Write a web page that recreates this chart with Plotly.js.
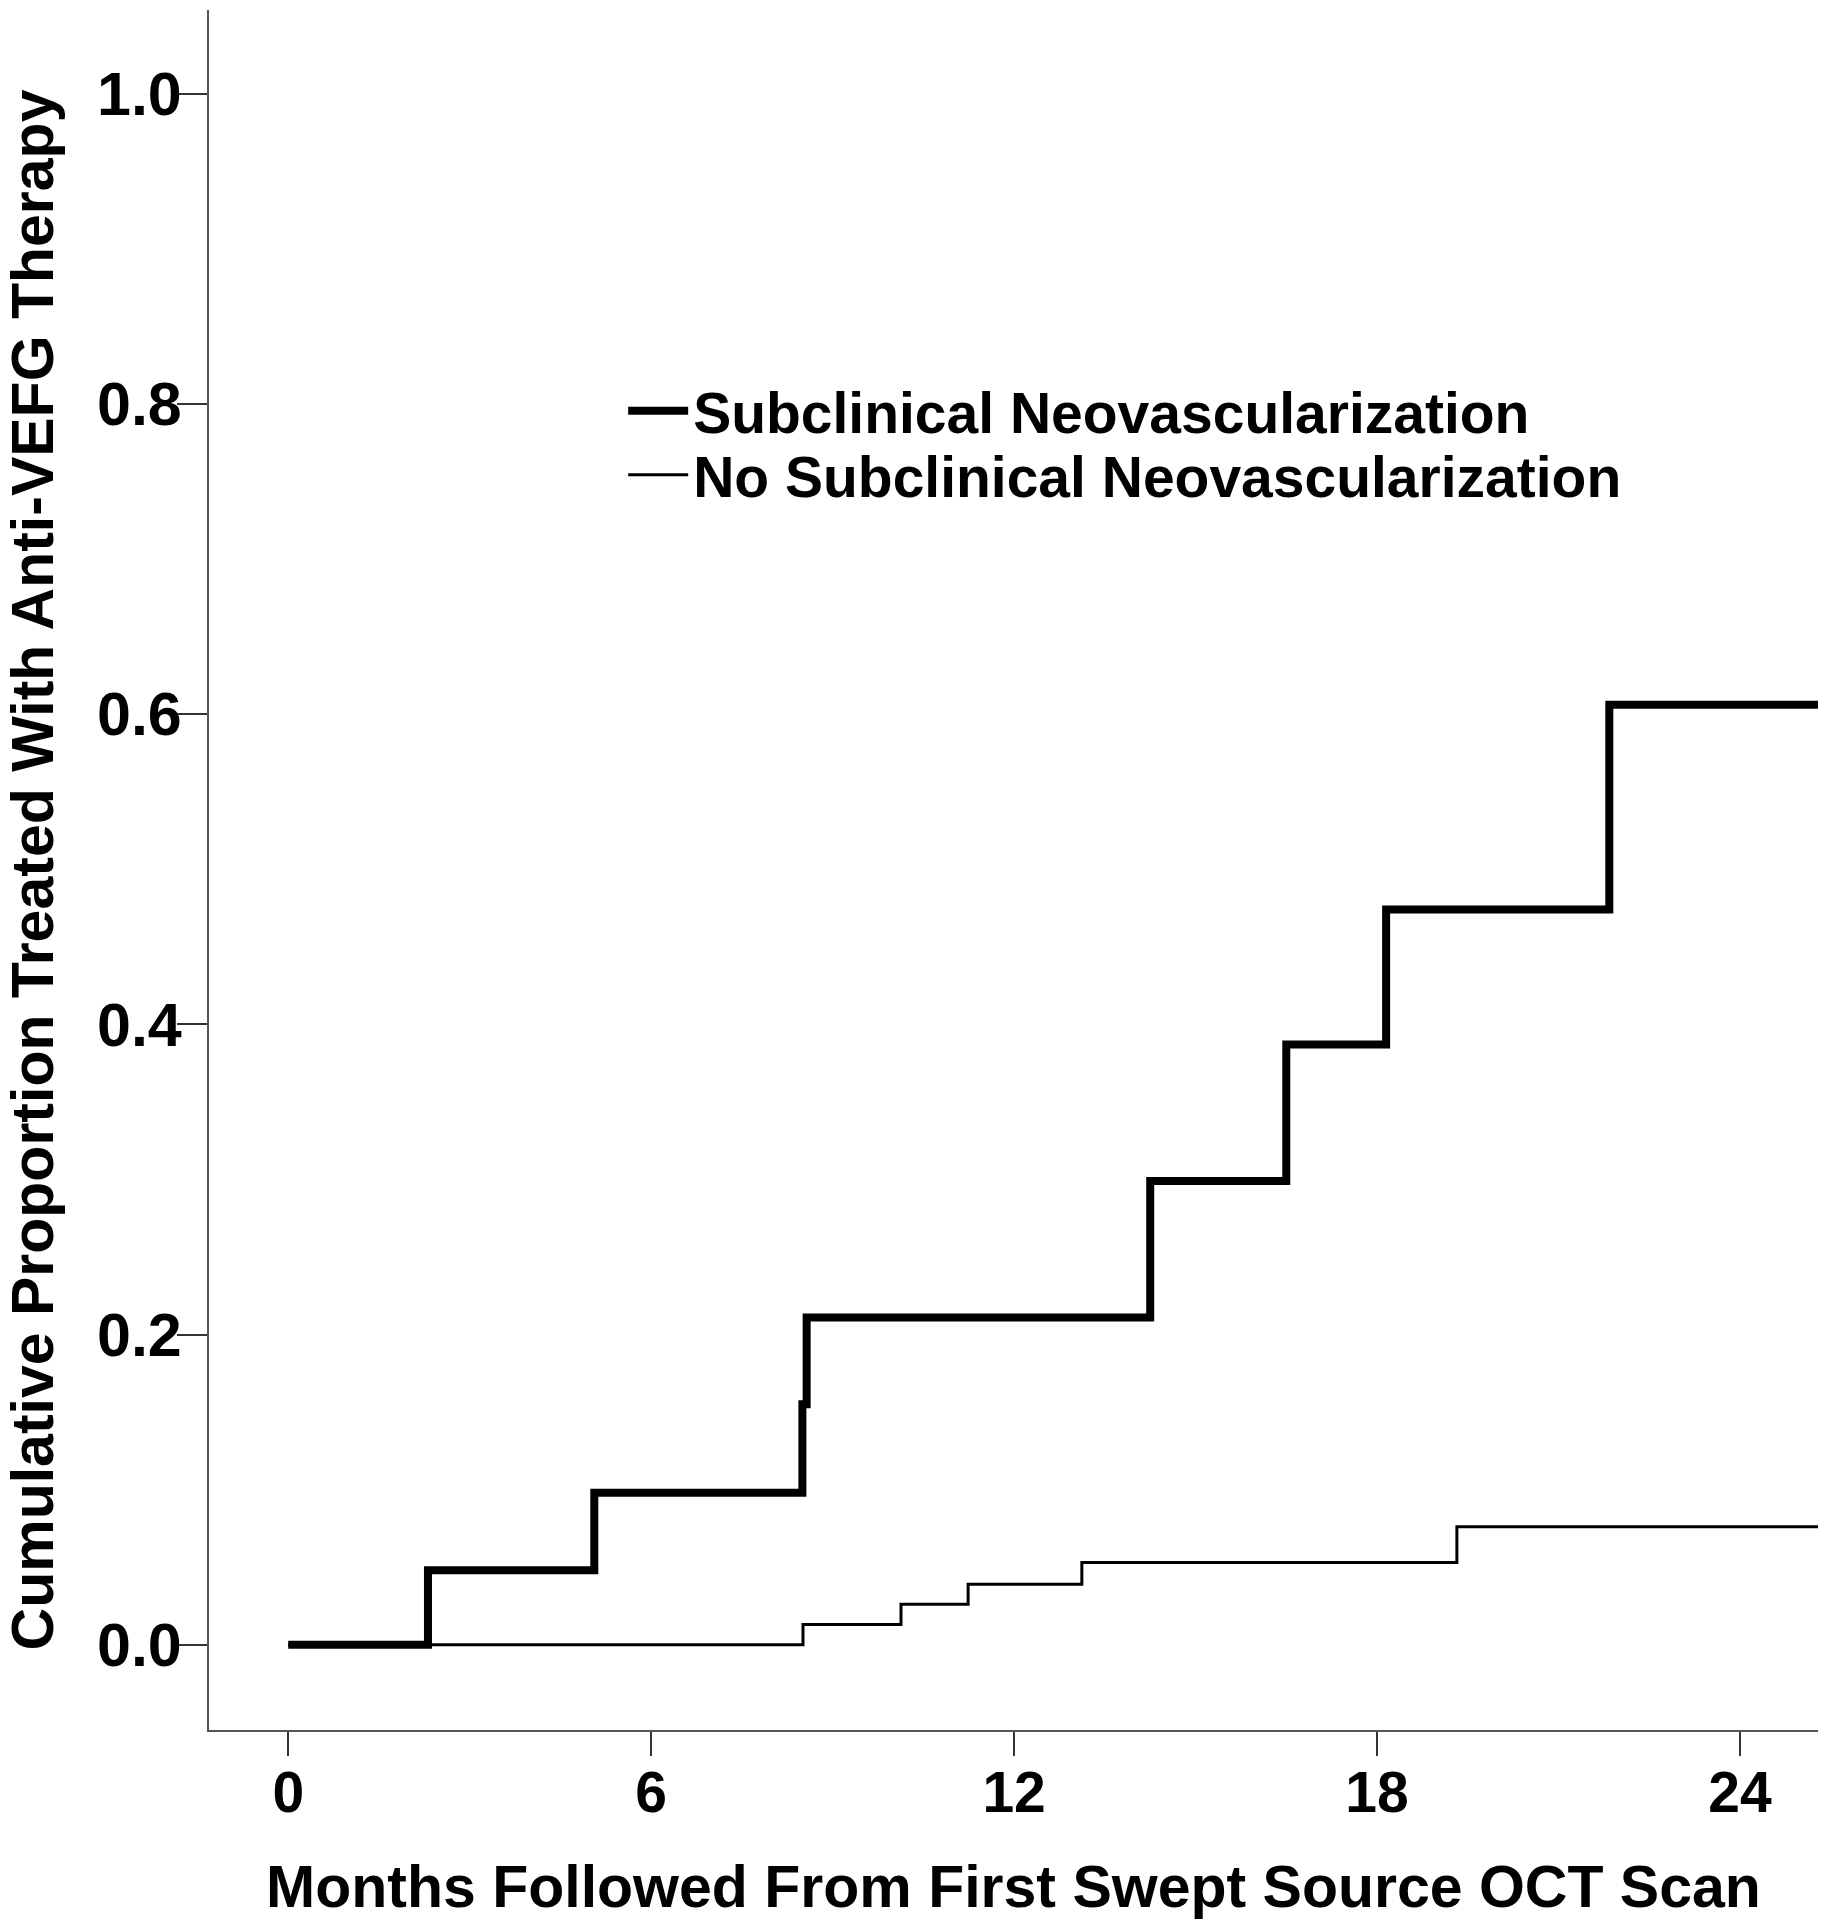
<!DOCTYPE html>
<html>
<head>
<meta charset="utf-8">
<script src="https://cdn.plot.ly/plotly-3.0.1.min.js"></script>
<style>
  html, body { margin: 0; padding: 0; background: #ffffff; }
  #chart { width: 1825px; height: 1920px; }
</style>
</head>
<body>
<div id="chart"></div>
<script>
// Months of follow-up at each step (Kaplan-Meier style cumulative incidence)
const subclinicalMonths = [0, 2.31, 5.06, 8.50, 8.57, 14.25, 16.50, 18.15, 21.84, 25.29];
const subclinicalProportion = [0, 0.048, 0.098, 0.155, 0.211, 0.299, 0.387, 0.474, 0.606, 0.606];

const noSubclinicalMonths = [0, 8.51, 10.13, 11.24, 13.12, 19.32, 25.29];
const noSubclinicalProportion = [0, 0.013, 0.026, 0.039, 0.053, 0.076, 0.076];

const seriesNames = ["Subclinical Neovascularization", "No Subclinical Neovascularization"];

const xTickValues = [0, 6, 12, 18, 24];
const xTickLabels = ["0", "6", "12", "18", "24"];
const yTickValues = [0, 0.2, 0.4, 0.6, 0.8, 1.0];
const yTickLabels = ["0.0", "0.2", "0.4", "0.6", "0.8", "1.0"];

const xTitle = "Months Followed From First Swept Source OCT Scan";
const yTitle = "Cumulative Proportion Treated With Anti-VEFG Therapy";

const FONT = "Liberation Sans, Arial, Helvetica, sans-serif";

const traces = [
  {
    type: "scatter", mode: "lines",
    name: seriesNames[0],
    x: subclinicalMonths, y: subclinicalProportion,
    line: { shape: "hv", color: "#000000", width: 8 },
    legend: "legend",
    hoverinfo: "skip"
  },
  {
    type: "scatter", mode: "lines",
    name: seriesNames[1],
    x: noSubclinicalMonths, y: noSubclinicalProportion,
    line: { shape: "hv", color: "#000000", width: 3 },
    legend: "legend2",
    hoverinfo: "skip"
  }
];

const axisCommon = {
  showgrid: false, zeroline: false, showline: true,
  linecolor: "#555555", linewidth: 2,
  ticks: "outside", tickcolor: "#333333", tickwidth: 2,
  tickmode: "array",
  automargin: false
};

const layout = {
  width: 1825, height: 1920,
  paper_bgcolor: "#ffffff", plot_bgcolor: "#ffffff",
  margin: { l: 209, r: 7, t: 10, b: 190 },
  showlegend: true,
  xaxis: Object.assign({}, axisCommon, {
    range: [-1.31, 25.29],
    tickvals: xTickValues, ticktext: xTickLabels,
    ticklen: 24,
    ticklabelstandoff: -12,
    tickfont: { family: FONT, size: 57, color: "#000000", weight: "bold" },
    title: { text: xTitle, standoff: 42, font: { family: FONT, size: 59, color: "#000000", weight: "bold" } }
  }),
  yaxis: Object.assign({}, axisCommon, {
    range: [-0.055, 1.054],
    tickvals: yTickValues, ticktext: yTickLabels,
    ticklen: 30,
    ticklabelstandoff: -17,
    tickfont: { family: FONT, size: 61, color: "#000000", weight: "bold" },
    title: { text: yTitle, standoff: 29, font: { family: FONT, size: 59, color: "#000000", weight: "bold" } }
  }),
  legend: {
    x: 0.2574, y: 0.7668, xanchor: "left", yanchor: "middle",
    bgcolor: "rgba(0,0,0,0)", borderwidth: 0,
    itemwidth: 60,
    font: { family: FONT, size: 57, color: "#000000", weight: "bold" }
  },
  legend2: {
    x: 0.2574, y: 0.7296, xanchor: "left", yanchor: "middle",
    bgcolor: "rgba(0,0,0,0)", borderwidth: 0,
    itemwidth: 60,
    font: { family: FONT, size: 57, color: "#000000", weight: "bold" }
  }
};

Plotly.newPlot("chart", traces, layout, { staticPlot: true, displayModeBar: false });
</script>
</body>
</html>
